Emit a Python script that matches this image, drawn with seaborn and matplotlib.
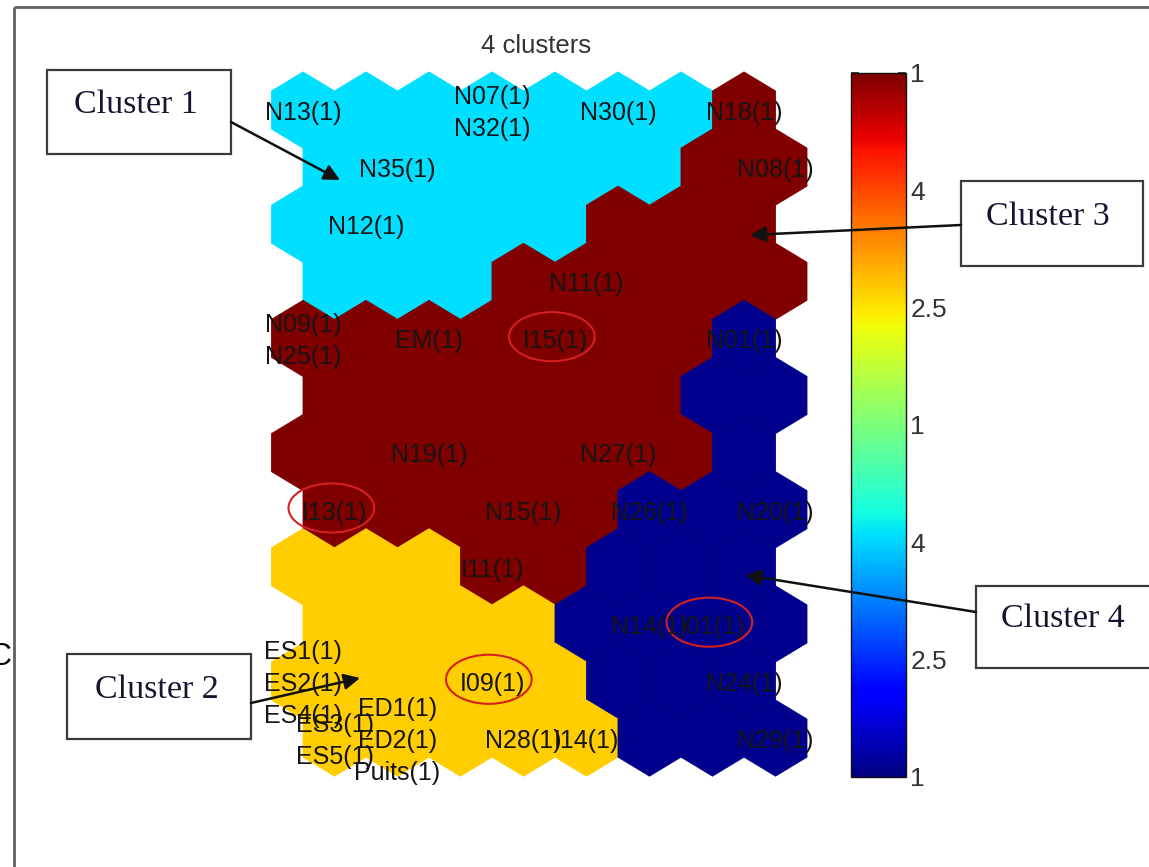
import numpy as np
import matplotlib
matplotlib.use("Agg")
import matplotlib.pyplot as plt
import seaborn as sns
from matplotlib.collections import PolyCollection
from matplotlib.patches import Ellipse, Rectangle
from matplotlib.colors import Normalize
from matplotlib.cm import ScalarMappable

# ---------------------------------------------------------------- data
# SOM map: 12 rows x 8 columns of hexagonal units, odd rows shifted right.
# Cluster code per unit (1 = dark blue, 2 = cyan, 3 = yellow, 4 = dark red)
cluster_grid = [
    [2, 2, 2, 2, 2, 2, 2, 4],
    [2, 2, 2, 2, 2, 2, 4, 4],
    [2, 2, 2, 2, 2, 4, 4, 4],
    [2, 2, 2, 4, 4, 4, 4, 4],
    [4, 4, 4, 4, 4, 4, 4, 1],
    [4, 4, 4, 4, 4, 4, 1, 1],
    [4, 4, 4, 4, 4, 4, 4, 1],
    [4, 4, 4, 4, 4, 1, 1, 1],
    [3, 3, 3, 4, 4, 1, 1, 1],
    [3, 3, 3, 3, 1, 1, 1, 1],
    [3, 3, 3, 3, 3, 1, 1, 1],
    [3, 3, 3, 3, 3, 1, 1, 1],
]

# Hit labels: (row, col, samples mapped to that unit)
hit_rows = [0, 0, 0, 0, 1, 1, 2, 3, 4, 4, 4, 4, 6, 6, 7, 7, 7, 7,
            8, 9, 9, 10, 10, 10, 11, 11, 11, 11, 11]
hit_cols = [0, 3, 5, 7, 1, 7, 1, 4, 0, 2, 4, 7, 2, 5, 0, 3, 5, 7,
            3, 5, 6, 0, 3, 7, 0, 1, 3, 4, 7]
hit_names = [
    ["N13(1)"], ["N07(1)", "N32(1)"], ["N30(1)"], ["N18(1)"],
    ["N35(1)"], ["N08(1)"],
    ["N12(1)"],
    ["N11(1)"],
    ["N09(1)", "N25(1)"], ["EM(1)"], ["I15(1)"], ["N01(1)"],
    ["N19(1)"], ["N27(1)"],
    ["I13(1)"], ["N15(1)"], ["N26(1)"], ["N20(1)"],
    ["I11(1)"],
    ["N14(1)"], ["I01(1)"],
    ["ES1(1)", "ES2(1)", "ES4(1)"], ["I09(1)"], ["N24(1)"],
    ["ES3(1)", "ES5(1)"], ["ED1(1)", "ED2(1)", "Puits(1)"],
    ["N28(1)"], ["I14(1)"], ["N29(1)"],
]

# Units circled in red
circled_rows = [4, 7, 10, 9]
circled_cols = [4, 0, 3, 6]

colorbar_ticklabels = ["1", "2.5", "4", "1", "2.5", "4", "1"]  # bottom -> top
cluster_names = ["Cluster 1", "Cluster 2", "Cluster 3", "Cluster 4"]
title_text = "4 clusters"

# ---------------------------------------------------------------- style
sns.set_theme(style="white")
plt.rcParams["font.family"] = ["Liberation Sans", "DejaVu Sans"]

W, H = 1149, 867
unit_colors = {1: "#00008C", 2: "#00DFFF", 3: "#FFCD00", 4: "#800000"}
jet = matplotlib.colormaps["jet"]


def px_rect(x0, y0, x1, y1):
    return [x0 / W, 1 - y1 / H, (x1 - x0) / W, (y1 - y0) / H]


fig = plt.figure(figsize=(W / 100, H / 100), dpi=100)
fig.patch.set_facecolor("white")

# ---------------------------------------------------------------- hex map
ax = fig.add_axes(px_rect(240, 60, 830, 800))
hex_dx = np.array([0.0, 0.5, 0.5, 0.0, -0.5, -0.5])
hex_dy = np.array([-2 / 3, -1 / 3, 1 / 3, 2 / 3, 1 / 3, -1 / 3])


def unit_center(r, c):
    return c + 0.5 * (r % 2), r


verts, faces = [], []
for r, row in enumerate(cluster_grid):
    for c, code in enumerate(row):
        cx, cy = unit_center(r, c)
        verts.append(np.column_stack([cx + hex_dx, cy + hex_dy]))
        faces.append(unit_colors[code])
ax.add_collection(PolyCollection(verts, facecolors=faces, edgecolors=faces,
                                 linewidths=0.6))

line_step = 0.56  # spacing of stacked labels, in row units
for r, c, names in zip(hit_rows, hit_cols, hit_names):
    cx, cy = unit_center(r, c)
    n = len(names)
    for i, name in enumerate(names):
        ax.text(cx, cy + 0.05 + (i - (n - 1) / 2) * line_step, name,
                ha="center", va="center", fontsize=18, color="#151515")

for r, c in zip(circled_rows, circled_cols):
    cx, cy = unit_center(r, c)
    ax.add_patch(Ellipse((cx - 0.05, cy - 0.03), 1.36, 0.86, fill=False,
                         edgecolor="#D42020", linewidth=1.5))

ax.set_xlim((240 - 303) / 63, (830 - 303) / 63)
ax.set_ylim((800 - 110) / 57.1, (60 - 110) / 57.1)
ax.axis("off")

# ---------------------------------------------------------------- colour bar
cax = fig.add_axes(px_rect(851, 73, 906, 777))
cb = fig.colorbar(ScalarMappable(norm=Normalize(1, 4), cmap=jet), cax=cax)
cb.set_ticks(np.linspace(1, 4, len(colorbar_ticklabels)))
cb.set_ticklabels(colorbar_ticklabels)
cax.tick_params(axis="y", direction="in", left=True, right=True, length=6,
                width=1.2, labelsize=19, labelcolor="#333333",
                color="#222222", pad=3)
cb.outline.set_linewidth(1.0)
cb.outline.set_edgecolor("#111111")

# ---------------------------------------------------------------- overlay
ov = fig.add_axes([0, 0, 1, 1])
ov.set_xlim(0, W)
ov.set_ylim(H, 0)
ov.axis("off")
ov.patch.set_alpha(0)

ov.text(536, 46, title_text, ha="center", va="center", fontsize=18.5,
        color="#333333")

# frame lines
ov.plot([14, W], [7, 7], color="#606060", lw=2, solid_capstyle="butt")
ov.plot([14, 14], [7, H], color="#606060", lw=2, solid_capstyle="butt")
ov.text(0, 657, "C", ha="center", va="center", fontsize=22, color="black")

boxes = [
    (47, 70, 231, 154),
    (67, 654, 251, 739),
    (961, 181, 1143, 266),
    (976, 586, 1165, 668),
]
text_pos = [(136, 105), (157, 690), (1048, 217), (1063, 619)]
arrow_from = [(231, 122), (251, 703), (961, 225), (976, 612)]
arrow_to = [(340, 180), (360, 678), (750, 235), (745, 575)]

for name, (x0, y0, x1, y1), (tx, ty), a0, a1 in zip(
        cluster_names, boxes, text_pos, arrow_from, arrow_to):
    ov.add_patch(Rectangle((x0, y0), x1 - x0, y1 - y0, facecolor="white",
                           edgecolor="#3a3a3a", linewidth=1.6, zorder=3))
    ov.text(tx, ty, name, ha="center", va="center", fontsize=24.5,
            family=["Liberation Serif", "DejaVu Serif"], color="#151530",
            zorder=4)
    ov.annotate("", xy=a1, xytext=a0,
                arrowprops=dict(arrowstyle="-|>", color="#111111", lw=1.8,
                                mutation_scale=24, shrinkA=0, shrinkB=0),
                zorder=5)

fig.savefig("out.png", dpi=100)
